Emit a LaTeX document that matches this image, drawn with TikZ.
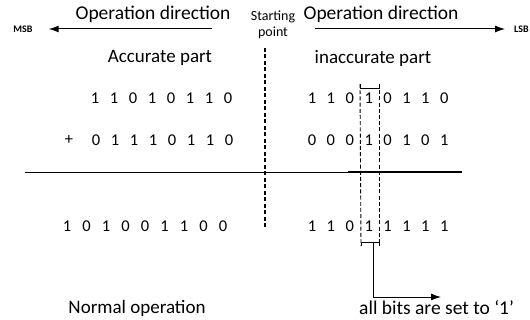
\documentclass[tikz,border=0pt]{standalone}
\usepackage{fontspec}
\setmainfont{Carlito}
\usetikzlibrary{arrows.meta}
\begin{document}
\begin{tikzpicture}[x=1pt,y=-1pt,
  lbl/.style={inner sep=0pt,font=\fontsize{19.5}{19.5}\selectfont},
  sub/.style={inner sep=0pt,font=\fontsize{19}{19}\selectfont},
  note/.style={inner sep=0pt,font=\fontsize{19.5}{19.5}\selectfont},
  bit/.style={inner sep=0pt,font=\fontsize{16.5}{16.5}\selectfont},
  tiny/.style={inner sep=0pt,font=\bfseries\fontsize{10}{10}\selectfont},
  small/.style={inner sep=0pt,font=\fontsize{14}{14}\selectfont},
  dirarrow/.style={line width=1pt,-{Latex[length=10pt,width=7pt]}},
  thindash/.style={line width=0.9pt,dash pattern=on 4pt off 2.2pt}]
\useasboundingbox (0,0) rectangle (530,320);

% direction headers
\node[lbl] (opl) at (153,14) {Operation direction};
\node[lbl] (opr) at (381,14) {Operation direction};
\node[tiny] (msb) at (23,29) {MSB};
\node[tiny,anchor=west] (lsb) at (514,29) {LSB};
\node[small] (start1) at (273,17) {Starting};
\node[small] (start2) at (273,33) {point};
\coordinate (la) at (212,29);
\coordinate (ra) at (315,29);
\draw[dirarrow] (la) -- ([xshift=16pt]msb.east);
\draw[dirarrow] (ra) -- ([xshift=-9pt]lsb.west);

% boundary between the two parts
\coordinate (ctop) at (265,48);
\coordinate (cbot) at (265,228);
\draw[line width=1.7pt,dash pattern=on 4pt off 2.5pt] (ctop) -- (cbot);

\node[sub] (acc) at (160,58) {Accurate part};
\node[sub] (inacc) at (373,58) {inaccurate part};

% operands, accurate part
\foreach \b [count=\i] in {1,1,0,1,0,1,1,0}
  \node[bit] (a\i) at ({95+19*(\i-1)},98) {\b};
\node[bit] (plus) at (69,140) {+};
\foreach \b [count=\i] in {0,1,1,1,0,1,1,0}
  \node[bit] (b\i) at ({96+19*(\i-1)},140) {\b};

% operands, inaccurate part
\foreach \b [count=\i] in {1,1,0,1,0,1,1,0}
  \node[bit] (c\i) at ({312+18.9*(\i-1)},98) {\b};
\foreach \b [count=\i] in {0,0,0,1,0,1,0,1}
  \node[bit] (d\i) at ({312+18.9*(\i-1)},140) {\b};

% sum line
\coordinate (s0) at (25,172);
\coordinate (s1) at (350,172);
\coordinate (s2) at (348,172.5);
\coordinate (s3) at (462,172.5);
\draw[line width=0.8pt] (s0) -- (s1);
\draw[line width=2pt] (s2) -- (s3);

% results
\foreach \b [count=\i] in {1,0,1,0,0,1,1,0,0}
  \node[bit] (r\i) at ({67+19.5*(\i-1)},226) {\b};
\foreach \b [count=\i] in {1,1,0,1,1,1,1,1}
  \node[bit] (q\i) at ({312+18.9*(\i-1)},226) {\b};

% column where bits are forced to '1'
\coordinate (kl) at (360,88);
\coordinate (kr) at (379,88);
\coordinate (bl) at (361,242);
\coordinate (br) at (379,242);
\draw[line width=0.9pt] ([yshift=4pt]kl) -- (kl) -- (kr) -- ([yshift=4pt]kr);
\draw[thindash] ([yshift=4pt]kl) -- ([yshift=-4pt]bl);
\draw[thindash] ([yshift=4pt]kr) -- ([yshift=-4pt]br);
\draw[line width=0.9pt] ([yshift=-4pt]bl) -- (bl) -- (br) -- ([yshift=-4pt]br);
\coordinate (bm) at (373,242);
\node[note,anchor=west] (notetext) at (359,308) {all bits are set to ‘1’};
\coordinate (corner) at (373,297);
\coordinate (tip) at (441,297);
\draw[line width=0.9pt,-{Latex[length=10pt,width=7pt]}] (bm) -- (corner) -- (tip);

\node[sub] (normal) at (137,308) {Normal operation};
\end{tikzpicture}
\end{document}
